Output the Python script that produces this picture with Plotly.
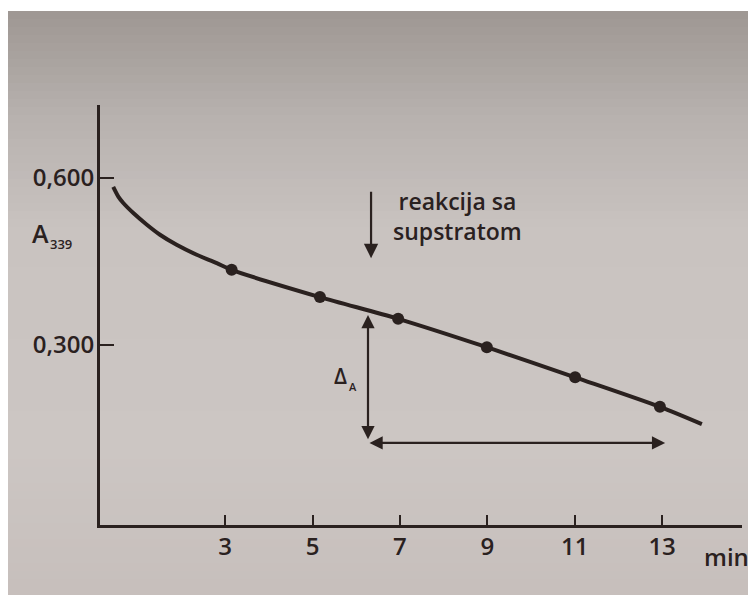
import plotly.graph_objects as go

# ---- data ----
curve_t = [0.44, 0.56, 0.67, 0.90, 1.21, 1.51, 1.89, 2.35, 2.81, 3.15, 5.17, 6.96, 8.99, 11.01, 12.95, 13.91]
curve_A = [0.584, 0.566, 0.555, 0.537, 0.516, 0.498, 0.480, 0.462, 0.447, 0.435, 0.386, 0.347, 0.296, 0.242, 0.189, 0.158]
point_t = [3.15, 5.17, 6.96, 8.99, 11.01, 12.95]
point_A = [0.435, 0.386, 0.347, 0.296, 0.242, 0.189]
x_tickvals = [3, 5, 7, 9, 11, 13]
x_ticktext = ["3", "5", "7", "9", "11", "13"]
y_tickvals = [0.3, 0.6]
y_ticktext = ["0,300", "0,600"]
substrate_t = 6.34
substrate_A = [0.578, 0.456]
delta_t = 6.27
delta_A = [0.354, 0.128]
base_t = [6.27, 13.07]
base_A = 0.124

INK = "#2a211f"
FONT = "Open Sans"

W, H = 756, 595
OFF = 8  # page body margin
# plot area in page pixels
PL, PR, PT, PB = 100, 742, 105, 525
L, R, T, B = PL - OFF, PR - OFF, PT - OFF, PB - OFF

def px2paper_x(px):  # page px -> paper
    return (px - OFF - L) / (R - L)

def py2paper_y(py):
    return (B - (py - OFF)) / (B - T)

fig = go.Figure()

fig.add_trace(go.Scatter(
    x=curve_t, y=curve_A, mode="lines",
    line=dict(color=INK, width=4, shape="spline", smoothing=0.8),
    hoverinfo="skip", showlegend=False))
fig.add_trace(go.Scatter(
    x=point_t, y=point_A, mode="markers",
    marker=dict(color=INK, size=12, symbol="circle"),
    showlegend=False))

# background "paper photo" bands
shapes = []
def lerp(c1, c2, f):
    return tuple(round(a + (b - a) * f) for a, b in zip(c1, c2))
stops = [(11, (158, 151, 147)), (120, (184, 178, 175)), (230, (201, 195, 192)),
         (450, (204, 198, 195)), (610, (198, 190, 187))]
py = 11
step = 8
while py < 610:
    mid = py + step / 2
    for i in range(len(stops) - 1):
        if stops[i][0] <= mid <= stops[i + 1][0]:
            f = (mid - stops[i][0]) / (stops[i + 1][0] - stops[i][0])
            c = lerp(stops[i][1], stops[i + 1][1], f)
            break
    shapes.append(dict(type="rect", xref="paper", yref="paper",
                       x0=px2paper_x(0), x1=px2paper_x(770),
                       y0=py2paper_y(py + step + 1), y1=py2paper_y(py),
                       fillcolor="rgb(%d,%d,%d)" % c, line=dict(width=0), layer="below"))
    py += step

def txt(x, y, text, size, xref="paper", yref="paper", xanchor="center"):
    return dict(x=x, y=y, xref=xref, yref=yref, text=text, showarrow=False,
                xanchor=xanchor, yanchor="middle",
                font=dict(family=FONT, size=size, color=INK, weight=600))

annotations = []
annotations.append(dict(x=substrate_t, y=substrate_A[1], ax=substrate_t, ay=substrate_A[0],
                        xref="x", yref="y", axref="x", ayref="y", text="",
                        showarrow=True, arrowhead=2, arrowsize=1.3, arrowwidth=2.2, arrowcolor=INK))
annotations.append(dict(x=delta_t, y=delta_A[0], ax=delta_t, ay=delta_A[1],
                        xref="x", yref="y", axref="x", ayref="y", text="",
                        showarrow=True, arrowhead=2, startarrowhead=2, arrowside="end+start",
                        arrowsize=1.2, startarrowsize=1.2, arrowwidth=2.2, arrowcolor=INK))
annotations.append(dict(x=base_t[1], y=base_A, ax=base_t[0], ay=base_A,
                        xref="x", yref="y", axref="x", ayref="y", text="",
                        showarrow=True, arrowhead=2, startarrowhead=2, arrowside="end+start",
                        arrowsize=1.2, startarrowsize=1.2, arrowwidth=2.2, arrowcolor=INK))
annotations.append(txt(px2paper_x(458), py2paper_y(216), "reakcija sa<br>supstratom", 23))
annotations.append(txt(px2paper_x(340), py2paper_y(376), "Δ", 21))
annotations.append(txt(px2paper_x(353), py2paper_y(386), "A", 11))
annotations.append(txt(px2paper_x(40), py2paper_y(233), "A", 25))
annotations.append(txt(px2paper_x(61), py2paper_y(244), "339", 13))
annotations.append(txt(px2paper_x(726), py2paper_y(556), "min", 24))

fig.update_layout(
    width=W, height=H,
    margin=dict(l=L, r=W - R, t=T, b=H - B, pad=0),
    paper_bgcolor="white",
    plot_bgcolor="rgba(0,0,0,0)",
    shapes=shapes,
    annotations=annotations,
    font=dict(family=FONT, color=INK),
    xaxis=dict(range=[(PL - 94) / 43.7, (PR - 94) / 43.7], showgrid=False, zeroline=False,
               showline=True, linecolor=INK, linewidth=3,
               tickvals=x_tickvals, ticktext=x_ticktext,
               ticks="inside", ticklen=10, tickwidth=2, tickcolor=INK,
               ticklabelstandoff=-2,
               tickfont=dict(family=FONT, size=24, color=INK, weight=600)),
    yaxis=dict(range=[(512 - PB) / 556.7, (512 - PT) / 556.7], showgrid=False, zeroline=False,
               showline=True, linecolor=INK, linewidth=3,
               tickvals=y_tickvals, ticktext=y_ticktext,
               ticks="inside", ticklen=14, tickwidth=1.5, tickcolor=INK,
               ticklabelstandoff=-2,
               tickfont=dict(family=FONT, size=24, color=INK, weight=600)),
)

fig.write_html("out.html")
